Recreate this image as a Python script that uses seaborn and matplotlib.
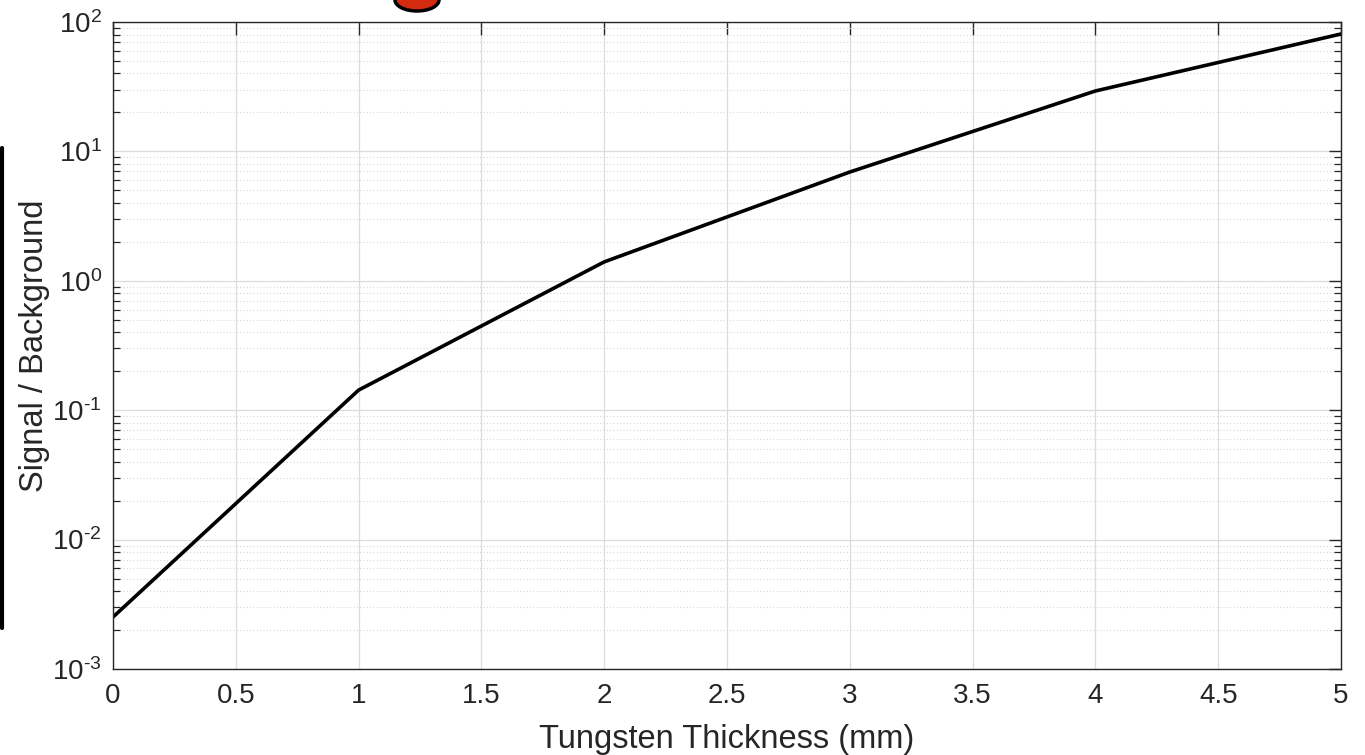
import numpy as np
import pandas as pd
import matplotlib
matplotlib.use("Agg")
import matplotlib.pyplot as plt
import seaborn as sns
from matplotlib.patches import Ellipse
from matplotlib.lines import Line2D
from matplotlib.ticker import LogLocator, NullFormatter, FuncFormatter

thickness_mm = [0, 1, 2, 3, 4, 5]
signal_to_background = [0.00252, 0.143, 1.40, 6.93, 29.3, 80.8]
x_ticks = [0, 0.5, 1, 1.5, 2, 2.5, 3, 3.5, 4, 4.5, 5]
x_tick_labels = ["0", "0.5", "1", "1.5", "2", "2.5", "3", "3.5", "4", "4.5", "5"]

sns.set_style("white")
plt.rcParams['font.family'] = ['Liberation Sans', 'DejaVu Sans']
plt.rcParams['mathtext.fontset'] = 'custom'
plt.rcParams['mathtext.rm'] = 'Liberation Sans'
plt.rcParams['mathtext.it'] = 'Liberation Sans'
plt.rcParams['mathtext.default'] = 'regular'

df = pd.DataFrame({"x": thickness_mm, "y": signal_to_background})

fig = plt.figure(figsize=(13.65, 7.55), dpi=100)
ax = fig.add_axes([113/1365, 1 - 669/755, (1341-113)/1365, (669-22)/755])

sns.lineplot(data=df, x="x", y="y", ax=ax, color="black", linewidth=2.6)
ax.set_yscale("log")
ax.set_xlim(0, 5)
ax.set_ylim(1e-3, 1e2)
ax.set_xticks(x_ticks)
ax.set_xticklabels(x_tick_labels)
ax.yaxis.set_major_locator(LogLocator(base=10, numticks=10))
ax.yaxis.set_minor_locator(LogLocator(base=10, subs=np.arange(2, 10), numticks=100))
ax.yaxis.set_minor_formatter(NullFormatter())

def log_fmt(v, pos):
    e = int(round(np.log10(v)))
    return r"$10^{\text{%d}}$" % e

ax.yaxis.set_major_formatter(FuncFormatter(log_fmt))

ax.grid(True, which="major", color="#dcdcdc", linewidth=0.9, linestyle="-")
ax.grid(True, which="minor", axis="y", color="#d8d8d8", linewidth=0.8, linestyle=(0, (1, 2)))
ax.set_axisbelow(True)

for s in ax.spines.values():
    s.set_color("#262626")
    s.set_linewidth(1.0)
ax.tick_params(which="major", direction="in", length=9, width=1.0, color="#262626",
               top=True, right=True, labelsize=20, labelcolor="#262626")
ax.tick_params(axis="x", which="major", pad=10)
ax.tick_params(axis="y", which="major", pad=8)
ax.tick_params(which="minor", direction="in", length=5, width=0.9, color="#262626",
               top=False, right=True, left=True)
ax.tick_params(axis="x", which="minor", bottom=False, top=False)

ax.set_xlabel("Tungsten Thickness (mm)", fontsize=23.5, color="#262626", labelpad=11)
ax.set_ylabel("Signal / Background", fontsize=23.5, color="#262626", labelpad=2)

# cropped artifacts at the figure edges
fig.add_artist(Ellipse((417/1365, 1 - 0/755), 44/1365, 22/755, transform=fig.transFigure,
                       facecolor="#d42a10", edgecolor="black", linewidth=2.5, clip_on=False))
fig.add_artist(Line2D([2/1365, 2/1365], [1 - 148/755, 1 - 628/755], transform=fig.transFigure,
                      color="black", linewidth=3))

fig.savefig("out.png", dpi=100)
